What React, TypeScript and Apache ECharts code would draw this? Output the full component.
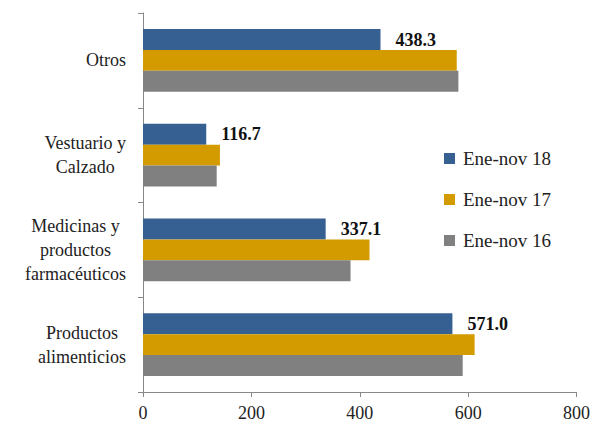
import React, { useEffect, useRef } from "react";
import * as echarts from "echarts";

const categories = [
  "Productos\nalimenticios",
  "Medicinas y\nproductos\nfarmacéuticos",
  "Vestuario y\nCalzado",
  "Otros",
];
const seriesNames = ["Ene-nov 18", "Ene-nov 17", "Ene-nov 16"];
const values18 = [571.0, 337.1, 116.7, 438.3];
const values17 = [612, 418, 142, 579];
const values16 = [590, 383, 136, 582];
const xTicks = { min: 0, max: 800, interval: 200 };

const FONT = "Liberation Serif";

export default function App() {
  const ref = useRef<HTMLDivElement>(null);
  useEffect(() => {
    if (!ref.current) return;
    const chart = echarts.init(ref.current, undefined, { renderer: "svg" });
    chart.setOption({
      animation: false,
      grid: { left: 135, right: 16, top: 5, bottom: 25 },
      legend: {
        orient: "vertical",
        left: 431,
        top: 136,
        itemWidth: 11,
        itemHeight: 11,
        itemGap: 22,
        icon: "rect",
        data: seriesNames,
        textStyle: { fontFamily: FONT, fontSize: 19, color: "#222", padding: [0, 0, 0, 3] },
      },
      xAxis: {
        type: "value",
        min: xTicks.min,
        max: xTicks.max,
        interval: xTicks.interval,
        splitLine: { show: false },
        axisLine: { show: true, lineStyle: { color: "#888" } },
        axisTick: { show: true, length: 5, lineStyle: { color: "#888" } },
        axisLabel: { fontFamily: FONT, fontSize: 18, color: "#222", margin: 12 },
      },
      yAxis: {
        type: "category",
        data: categories,
        axisLine: { show: true, lineStyle: { color: "#888" } },
        axisTick: { show: true, length: 5, lineStyle: { color: "#888" } },
        axisLabel: {
          align: "right",
          margin: 17,
          formatter: (v: string) =>
            v
              .split("\n")
              .map((l) => `{c|${l}}`)
              .join("\n"),
          rich: {
            c: {
              align: "center",
              fontFamily: FONT,
              fontSize: 18,
              lineHeight: 24,
              color: "#222",
            },
          },
        },
      },
      series: [
        {
          name: "Ene-nov 18",
          type: "bar",
          data: values18,
          itemStyle: { color: "#366092" },
          barCategoryGap: "34%",
          barGap: "0%",
          label: {
            show: true,
            position: "right",
            distance: 15,
            fontFamily: FONT,
            fontSize: 18,
            fontWeight: "bold",
            color: "#111",
            formatter: (p: any) => Number(p.value).toFixed(1),
          },
        },
        {
          name: "Ene-nov 17",
          type: "bar",
          data: values17,
          itemStyle: { color: "#D49B00" },
          barGap: "0%",
        },
        {
          name: "Ene-nov 16",
          type: "bar",
          data: values16,
          itemStyle: { color: "#808080" },
          barGap: "0%",
        },
      ],
    });
    return () => chart.dispose();
  }, []);
  return <div ref={ref} style={{ width: 585, height: 414 }} />;
}
